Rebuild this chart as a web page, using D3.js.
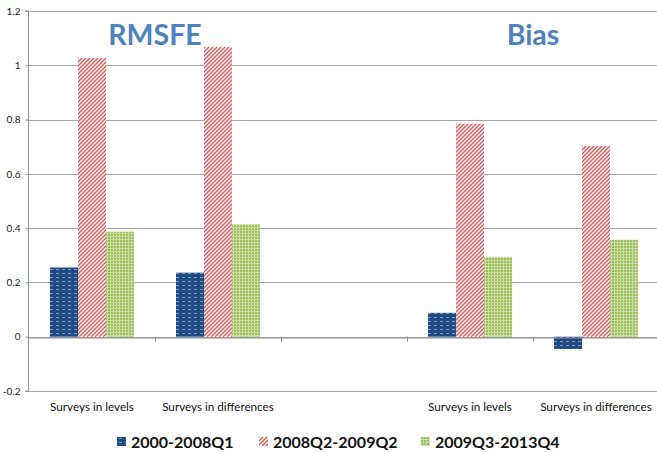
<!DOCTYPE html>
<html><head><meta charset="utf-8">
<script src="https://cdn.jsdelivr.net/npm/d3@7"></script>
<style>body{margin:0;background:#fff}svg{display:block}</style>
</head><body><svg id="c" width="657" height="452"></svg>
<script>
const categories = ["Surveys in levels","Surveys in differences","","Surveys in levels ","Surveys in differences "];
const seriesNames = ["2000-2008Q1","2008Q2-2009Q2","2009Q3-2013Q4"];
const s1 = [0.255, 0.236, null, 0.088, -0.045];
const s2 = [1.027, 1.068, null, 0.785, 0.703];
const s3 = [0.387, 0.415, null, 0.294, 0.357];
const yTicks = [-0.2, 0, 0.2, 0.4, 0.6, 0.8, 1, 1.2];
const yTickLabels = ["-0.2","0","0.2","0.4","0.6","0.8","1","1.2"];
const panelTitles = [{text:"RMSFE", cat:0.5}, {text:"Bias", cat:3.5}];

const svg = d3.select("#c");
const defs = svg.append("defs");
const pb = defs.append("pattern").attr("id","pBlue").attr("patternUnits","userSpaceOnUse").attr("width",6).attr("height",4);
pb.append("rect").attr("width",6).attr("height",4).attr("fill","#1F4A82");
pb.append("rect").attr("x",2).attr("y",1).attr("width",3).attr("height",1).attr("fill","#7f9cc4");
const pr = defs.append("pattern").attr("id","pRed").attr("patternUnits","userSpaceOnUse").attr("width",4).attr("height",4);
pr.append("rect").attr("width",4).attr("height",4).attr("fill","#fff");
pr.append("path").attr("d","M-1,1 L1,-1 M0,4 L4,0 M3,5 L5,3").attr("stroke","#e05555").attr("stroke-width",1.4);
const pg = defs.append("pattern").attr("id","pGreen").attr("patternUnits","userSpaceOnUse").attr("width",3).attr("height",3);
pg.append("rect").attr("width",3).attr("height",3).attr("fill","#9CBF5C");
pg.append("rect").attr("x",2).attr("width",1).attr("height",3).attr("fill","#c6dca0");
pg.append("rect").attr("y",2).attr("width",3).attr("height",1).attr("fill","#c6dca0");
const fills = ["url(#pBlue)","url(#pRed)","url(#pGreen)"];

const x0 = d3.scaleBand().domain(categories).range([29, 659]).paddingInner(0).paddingOuter(0);
const x1 = d3.scaleBand().domain([0,1,2]).range([x0.bandwidth()/6, x0.bandwidth()*5/6]);
const y = d3.scaleLinear().domain([-0.2, 1.2]).range([391, 11]);

svg.append("g").selectAll("line").data(yTicks).join("line")
  .attr("x1",28).attr("x2",657).attr("y1",d=>Math.round(y(d))+0.5).attr("y2",d=>Math.round(y(d))+0.5)
  .attr("stroke","#a6a6a6").attr("stroke-width",1);

const yAxis = svg.append("g").attr("transform","translate(28.5,0)")
  .call(d3.axisLeft(y).tickValues(yTicks).tickSize(3).tickPadding(5).tickFormat((d,i)=>yTickLabels[i]));
yAxis.select(".domain").attr("stroke","#8c8c8c").attr("d", `M-3,${y(1.2)}H0V${y(-0.2)}H-3`);
yAxis.selectAll(".tick line").attr("stroke","#8c8c8c");
yAxis.selectAll("text").attr("font-family","Lato, 'Open Sans', sans-serif").attr("font-size",10).attr("fill","#222");

const series = [s1,s2,s3];
series.forEach((vals,si)=>{
  svg.append("g").selectAll("rect").data(categories.map((c,i)=>({c,v:vals[i]})).filter(d=>d.v!==null)).join("rect")
    .attr("x",d=>x0(d.c)+x1(si)).attr("width",x1.bandwidth())
    .attr("y",d=>y(Math.max(0,d.v))).attr("height",d=>Math.abs(y(d.v)-y(0)))
    .attr("fill",fills[si]);
});

const xAxis = svg.append("g").attr("transform",`translate(0,${Math.round(y(0))+0.5})`)
  .call(d3.axisBottom(x0).tickSize(0).tickFormat(""));
xAxis.select(".domain").attr("stroke","#8c8c8c");
svg.append("g").selectAll("line").data(categories.slice(1)).join("line")
  .attr("x1",d=>Math.round(x0(d))+0.5).attr("x2",d=>Math.round(x0(d))+0.5)
  .attr("y1",y(0)).attr("y2",y(0)+5).attr("stroke","#8c8c8c");

svg.append("g").selectAll("text").data(categories).join("text")
  .attr("x",d=>x0(d)+x0.bandwidth()/2).attr("y",411).attr("text-anchor","middle")
  .attr("font-family","Lato, 'Open Sans', sans-serif").attr("font-size",11.7).attr("fill","#111")
  .text(d=>d.trim());

svg.append("g").selectAll("text").data(panelTitles).join("text")
  .attr("x",d=>x0.range()[0]+x0.bandwidth()*(d.cat+0.5)).attr("y",45).attr("text-anchor","middle")
  .attr("font-family","Lato, 'Open Sans', sans-serif").attr("font-weight","bold").attr("font-size",28.5).attr("fill","#4F81BD")
  .text(d=>d.text);

const legX = [117, 259, 421];
const leg = svg.append("g").selectAll("g").data(seriesNames).join("g")
  .attr("transform",(d,i)=>`translate(${legX[i]},437)`);
leg.append("rect").attr("width",9).attr("height",9).attr("fill",(d,i)=>fills[i]);
leg.append("text").attr("x",14).attr("y",11).attr("font-family","Lato, 'Open Sans', sans-serif")
  .attr("font-weight","bold").attr("font-size",16).attr("fill","#111").text(d=>d);
</script></body></html>
